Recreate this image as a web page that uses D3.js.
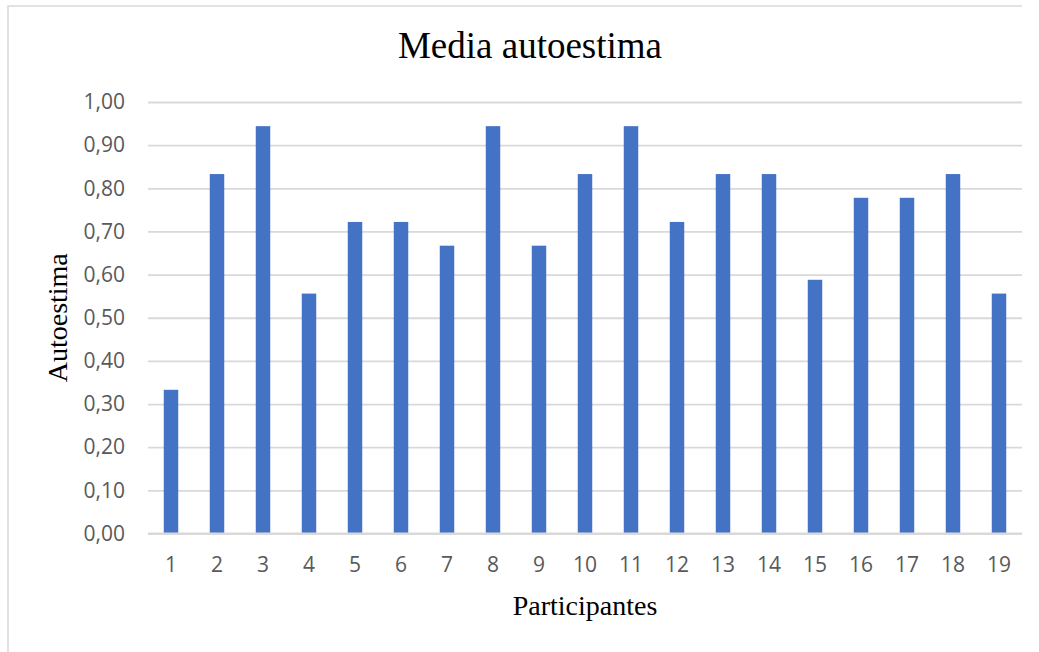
<!DOCTYPE html>
<html>
<head>
<meta charset="utf-8">
<script src="https://cdn.jsdelivr.net/npm/d3@7"></script>
<style>
  html, body { margin: 0; padding: 0; background: #fff; }
  svg { display: block; }
</style>
</head>
<body>
<svg id="chart" width="1039" height="652"></svg>
<script>
// Participant numbers and their mean self-esteem score
const participants = ["1","2","3","4","5","6","7","8","9","10","11","12","13","14","15","16","17","18","19"];
const autoestima = [0.333, 0.833, 0.944, 0.556, 0.722, 0.722, 0.667, 0.944, 0.667, 0.833,
                    0.944, 0.722, 0.833, 0.833, 0.588, 0.778, 0.778, 0.833, 0.556];
const yTicks = [0, 0.1, 0.2, 0.3, 0.4, 0.5, 0.6, 0.7, 0.8, 0.9, 1.0];

const svg = d3.select("#chart");
const plot = { left: 148, right: 1022, top: 102, bottom: 533.5 };
const grey = "#d9d9d9";
const labelColor = "#595959";

// Chart frame (top and left edges)
svg.append("path")
  .attr("d", `M8,652 L8,6 L1022,6`)
  .attr("fill", "none")
  .attr("stroke", grey)
  .attr("stroke-width", 1.5);

const x = d3.scaleBand()
  .domain(participants)
  .range([plot.left, plot.right])
  .paddingInner(0.685)
  .paddingOuter(0.3425);

const y = d3.scaleLinear()
  .domain([0, 1])
  .range([plot.bottom, plot.top]);

const fmt = v => d3.format(".2f")(v).replace(".", ",");

// Horizontal gridlines and y labels
const yAxis = d3.axisLeft(y)
  .tickValues(yTicks)
  .tickFormat(fmt)
  .tickSize(-(plot.right - plot.left))
  .tickPadding(23);

const gy = svg.append("g")
  .attr("transform", `translate(${plot.left},0)`)
  .call(yAxis);
gy.select(".domain").remove();
gy.selectAll(".tick line").attr("stroke", grey).attr("stroke-width", 1.8);
gy.selectAll(".tick text")
  .attr("fill", labelColor)
  .style("font-family", "'Open Sans', sans-serif")
  .style("font-size", "21px");

// Bars
svg.append("g")
  .selectAll("rect")
  .data(autoestima)
  .join("rect")
  .attr("x", (d, i) => x(participants[i]))
  .attr("y", d => y(d))
  .attr("width", x.bandwidth())
  .attr("height", d => y(0) - y(d))
  .attr("fill", "#4472C4");

// Category axis
const xAxis = d3.axisBottom(x).tickSize(0).tickPadding(24);
const gx = svg.append("g")
  .attr("transform", `translate(0,${plot.bottom})`)
  .call(xAxis);
gx.select(".domain").attr("stroke", grey).attr("stroke-width", 1.8)
  .attr("d", `M${plot.left},0H${plot.right}`);
gx.selectAll(".tick text")
  .attr("fill", labelColor)
  .style("font-family", "'Open Sans', sans-serif")
  .style("font-size", "21px");

// Titles
svg.append("text")
  .attr("x", 530)
  .attr("y", 58)
  .attr("text-anchor", "middle")
  .style("font-family", "'Liberation Serif', 'Times New Roman', serif")
  .style("font-size", "37px")
  .attr("fill", "#000")
  .text("Media autoestima");

svg.append("text")
  .attr("x", (plot.left + plot.right) / 2)
  .attr("y", 615)
  .attr("text-anchor", "middle")
  .style("font-family", "'Liberation Serif', 'Times New Roman', serif")
  .style("font-size", "28px")
  .attr("fill", "#000")
  .text("Participantes");

svg.append("text")
  .attr("transform", `translate(67,${(plot.top + plot.bottom) / 2}) rotate(-90)`)
  .attr("text-anchor", "middle")
  .style("font-family", "'Liberation Serif', 'Times New Roman', serif")
  .style("font-size", "28px")
  .attr("fill", "#000")
  .text("Autoestima");
</script>
</body>
</html>
